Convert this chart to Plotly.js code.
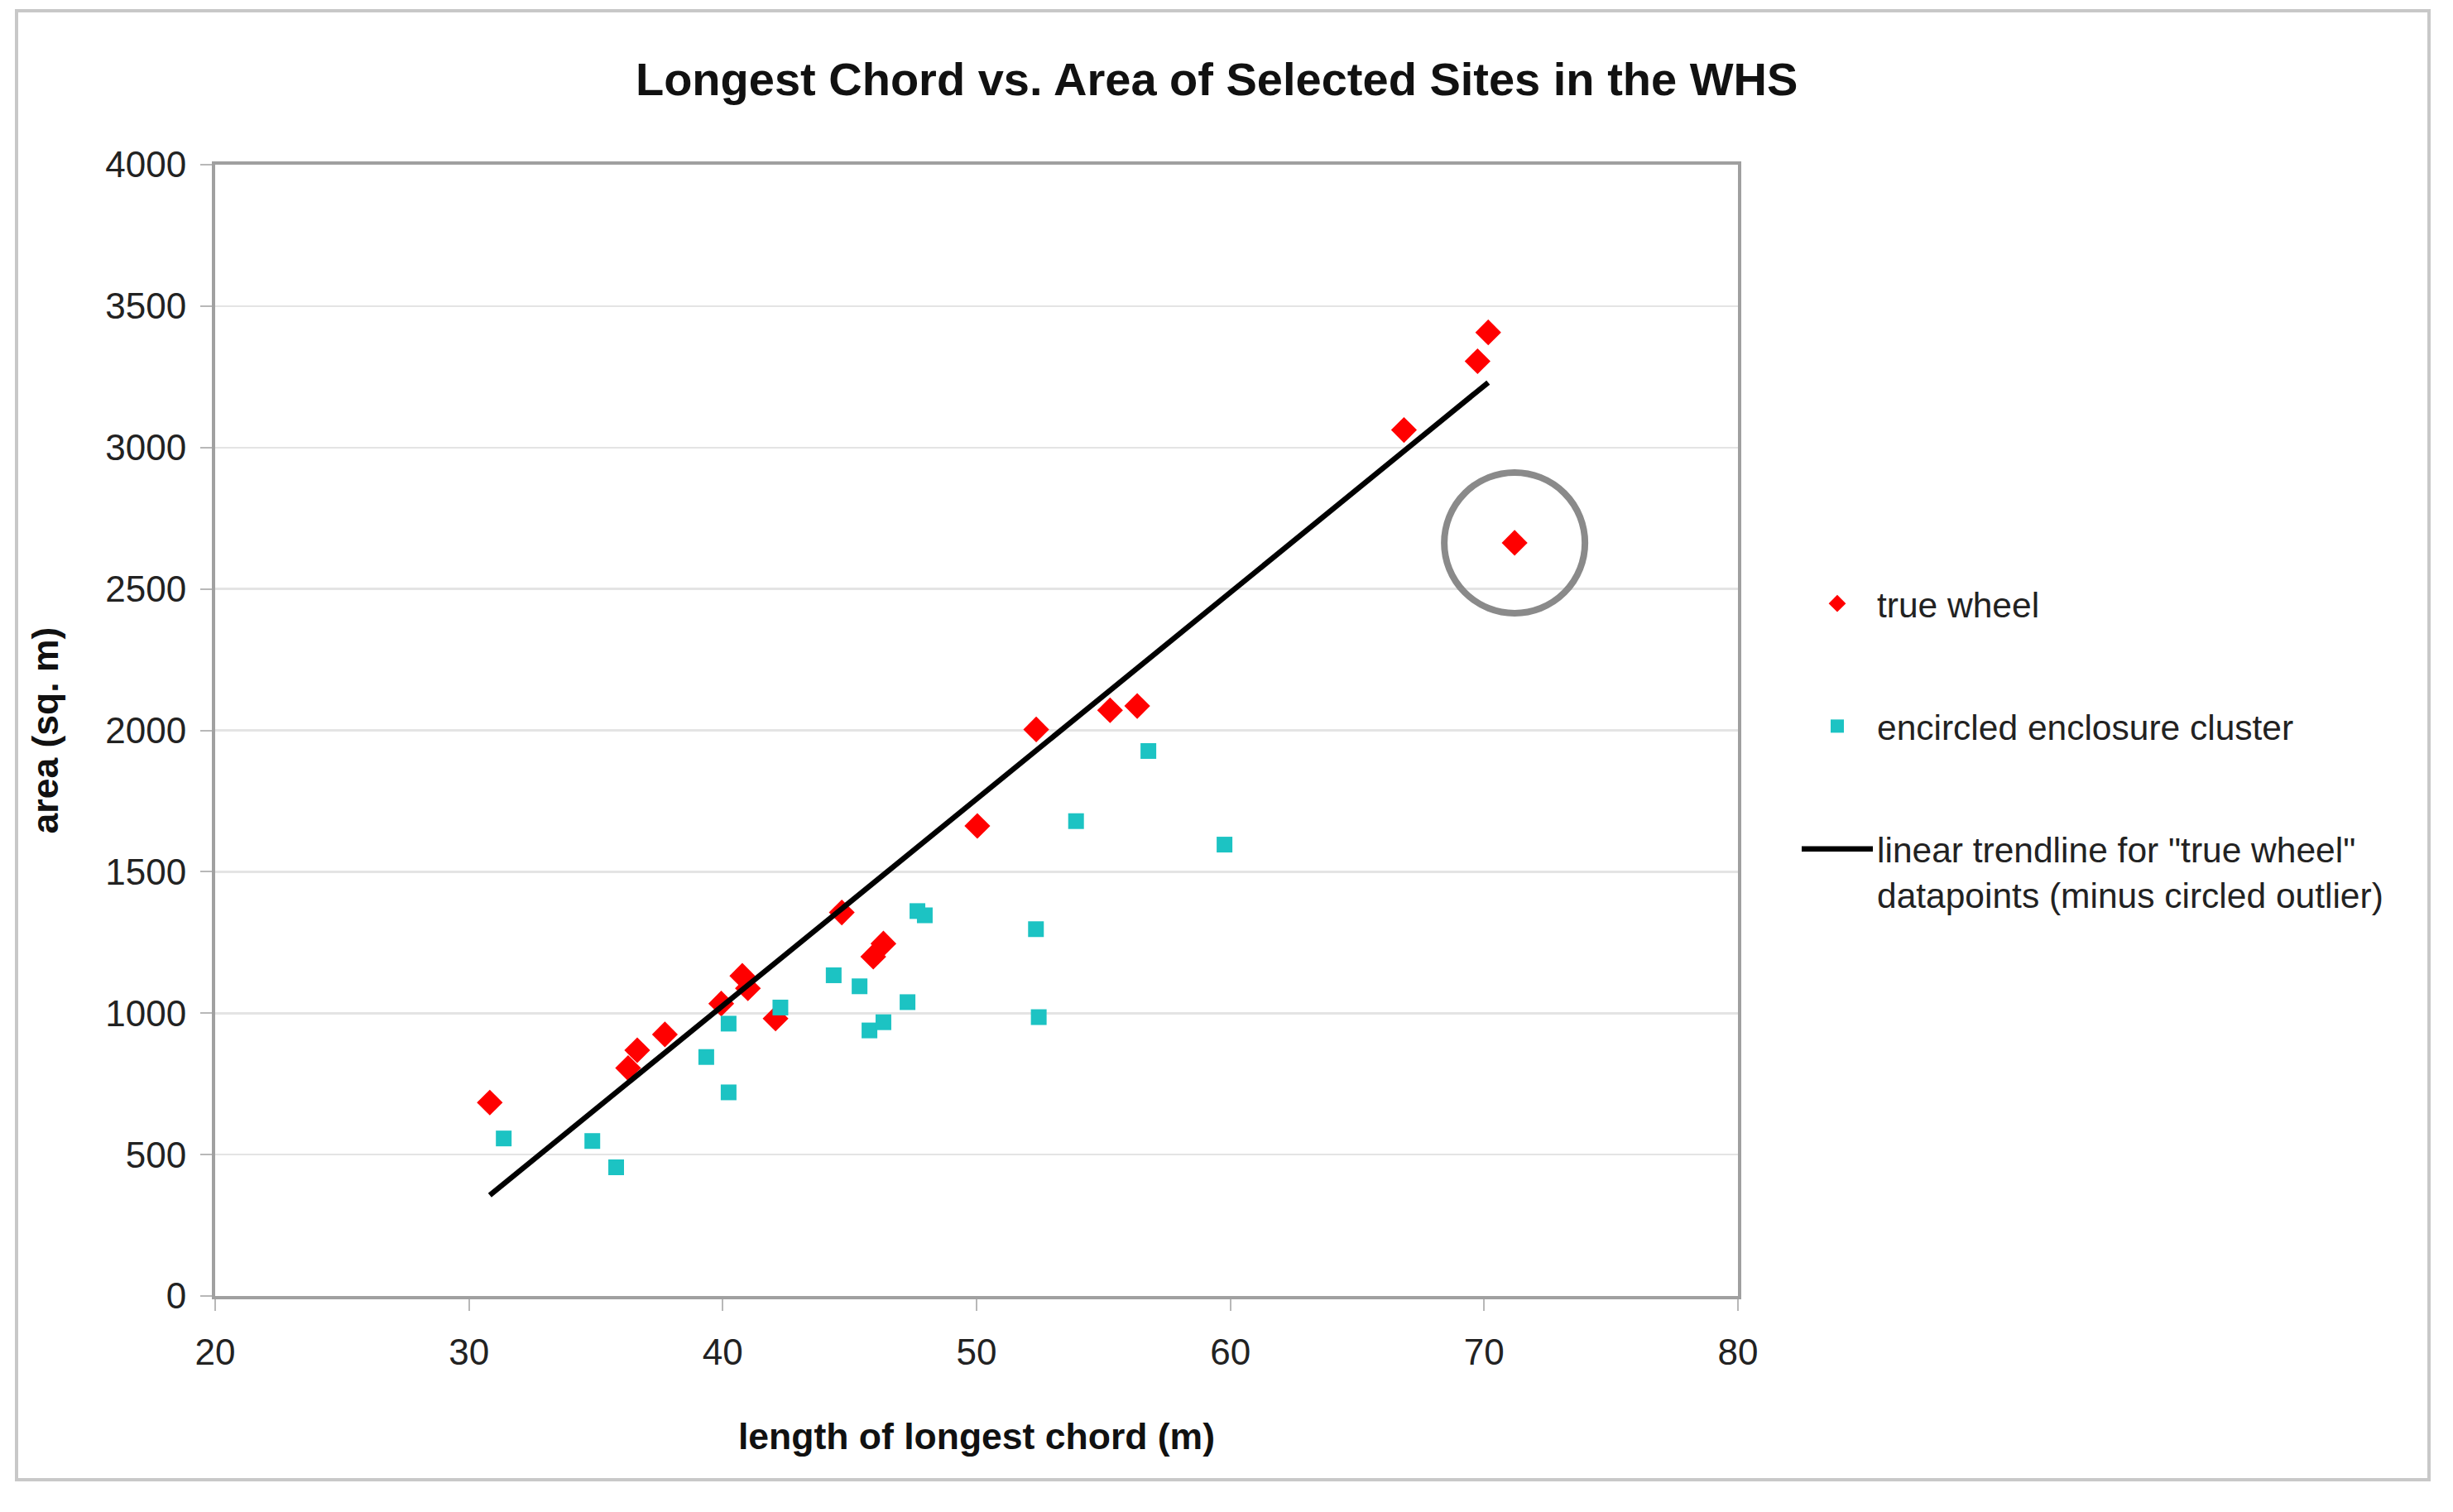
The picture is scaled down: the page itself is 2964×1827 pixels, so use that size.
<!DOCTYPE html>
<html>
<head>
<meta charset="utf-8">
<script src="https://cdn.plot.ly/plotly-3.0.1.min.js"></script>
<style>
  html, body { margin: 0; padding: 0; background: #ffffff; }
  #chart { width: 2964px; height: 1827px; }
</style>
</head>
<body>
<div id="chart"></div>
<script>
// ---- data ----
const trueWheelX = [30.82, 36.27, 36.63, 37.72, 39.94, 40.77, 40.99, 42.08, 44.69, 45.93, 46.33, 50.03, 52.35, 55.26, 56.33, 66.84, 69.74, 70.16];
const trueWheelY = [684, 806, 869, 925, 1034, 1132, 1088, 981, 1356, 1200, 1246, 1662, 2003, 2071, 2086, 3062, 3305, 3407];
const outlierX = [71.2];
const outlierY = [2663];
const clusterX = [31.37, 34.86, 35.80, 39.35, 40.23, 40.23, 42.27, 44.37, 45.39, 45.78, 46.33, 47.28, 47.67, 47.96, 52.34, 52.45, 53.92, 56.77, 59.77];
const clusterY = [557, 548, 455, 845, 963, 720, 1020, 1134, 1095, 939, 968, 1039, 1361, 1346, 1297, 986, 1679, 1927, 1596];
const xTicks = [20, 30, 40, 50, 60, 70, 80];
const yTicks = [0, 500, 1000, 1500, 2000, 2500, 3000, 3500, 4000];

// ---- linear least-squares fit of "true wheel" points (minus outlier) ----
function linFit(xs, ys) {
  const n = xs.length;
  const mx = xs.reduce((a, b) => a + b, 0) / n;
  const my = ys.reduce((a, b) => a + b, 0) / n;
  let sxy = 0, sxx = 0;
  for (let i = 0; i < n; i++) { sxy += (xs[i] - mx) * (ys[i] - my); sxx += (xs[i] - mx) * (xs[i] - mx); }
  const m = sxy / sxx;
  return { m: m, b: my - m * mx };
}
const fit = linFit(trueWheelX, trueWheelY);
const trendX = [Math.min(...trueWheelX), Math.max(...trueWheelX)];
const trendY = trendX.map(x => fit.m * x + fit.b);

const FONT = '"Liberation Sans", Arial, Helvetica, sans-serif';

// plot-area geometry (px)
const L = 260, R = 2100, T = 199, B = 1566, W = 2964, H = 1827;
const PW = R - L, PH = B - T;

const traces = [
  {
    type: 'scatter', mode: 'markers', name: 'true wheel',
    x: trueWheelX.concat(outlierX), y: trueWheelY.concat(outlierY),
    marker: { symbol: 'diamond', size: 24, color: '#ff0000' },
    legendgroup: 'a'
  },
  {
    type: 'scatter', mode: 'markers', name: 'encircled enclosure cluster',
    x: clusterX, y: clusterY,
    marker: { symbol: 'square', size: 19, color: '#1cc3c3' },
    legendgroup: 'b'
  },
  {
    type: 'scatter', mode: 'lines',
    name: 'linear trendline for "true wheel"<br>datapoints (minus circled outlier)',
    x: trendX, y: trendY,
    line: { color: '#000000', width: 6.5 },
    legendgroup: 'c'
  }
];

const layout = {
  width: W, height: H,
  paper_bgcolor: '#ffffff', plot_bgcolor: '#ffffff',
  margin: { l: L, r: W - R, t: T, b: H - B, pad: 0 },
  font: { family: FONT, size: 42, color: '#222222' },
  title: {
    text: '<b>Longest Chord vs. Area of Selected Sites in the WHS</b>',
    font: { family: FONT, size: 56, color: '#111111' },
    x: 0.496, xref: 'container', xanchor: 'center',
    y: 1 - 95 / H, yref: 'container', yanchor: 'middle'
  },
  xaxis: {
    range: [20, 80], tickvals: xTicks, ticktext: xTicks.map(String),
    showgrid: false, zeroline: false,
    showline: true, mirror: true, linecolor: '#a0a0a0', linewidth: 4,
    ticks: 'outside', ticklen: 14, tickwidth: 2, tickcolor: '#b8b8b8',
    ticklabelstandoff: 12,
    tickfont: { family: FONT, size: 44, color: '#222222' },
    title: { text: '<b>length of longest chord (m)</b>', font: { family: FONT, size: 44.5, color: '#111111' }, standoff: 64 },
    automargin: false
  },
  yaxis: {
    range: [0, 4000], tickvals: yTicks, ticktext: yTicks.map(String),
    showgrid: true, gridcolor: '#e4e4e4', gridwidth: 2.5, zeroline: false,
    showline: true, mirror: true, linecolor: '#a0a0a0', linewidth: 4,
    ticks: 'outside', ticklen: 14, tickwidth: 2, tickcolor: '#b8b8b8',
    ticklabelstandoff: 8,
    tickfont: { family: FONT, size: 44, color: '#222222' },
    title: { text: '<b>area (sq. m)</b>', font: { family: FONT, size: 44.5, color: '#111111' }, standoff: 44 },
    automargin: false
  },
  showlegend: true,
  legend: {
    x: (2172 - L) / PW, xanchor: 'left',
    y: (B - 695) / PH, yanchor: 'top',
    traceorder: 'grouped', tracegroupgap: 90, valign: 'top',
    itemwidth: 86,
    font: { family: FONT, size: 42.5, color: '#222222' },
    bgcolor: 'rgba(0,0,0,0)', borderwidth: 0
  },
  shapes: [
    // outer chart frame
    { type: 'rect', xref: 'paper', yref: 'paper',
      x0: (20 - L) / PW, x1: (2935 - L) / PW,
      y0: (B - 1788) / PH, y1: (B - 13) / PH,
      line: { color: '#c8c8c8', width: 4 }, fillcolor: 'rgba(0,0,0,0)', layer: 'below' },
    // circle around the outlier
    { type: 'circle', xref: 'x', yref: 'y',
      xsizemode: 'pixel', ysizemode: 'pixel',
      xanchor: outlierX[0], yanchor: outlierY[0],
      x0: -85, x1: 85, y0: -85, y1: 85,
      line: { color: '#8a8a8a', width: 8 }, fillcolor: 'rgba(0,0,0,0)' }
  ]
};

Plotly.newPlot('chart', traces, layout, { staticPlot: true, displayModeBar: false });
</script>
</body>
</html>
